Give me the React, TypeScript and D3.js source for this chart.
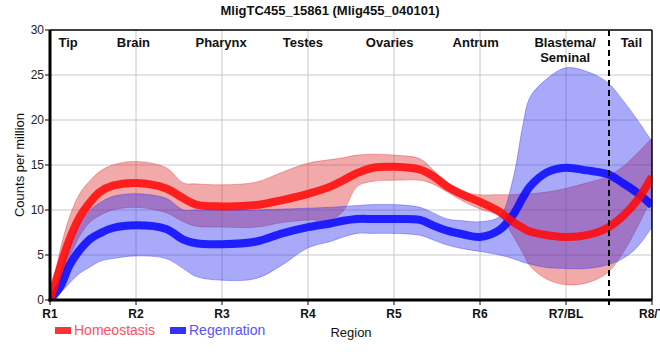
import { useRef, useEffect } from "react";
import * as d3 from "d3";

const title = "MligTC455_15861 (Mlig455_040101)";
const tickLabels = ["R1", "R2", "R3", "R4", "R5", "R6", "R7/BL", "R8/T"];
const regionNames = ["Tip", "Brain", "Pharynx", "Testes", "Ovaries", "Antrum", "Blastema/\nSeminal", "Tail"];
const regionPos = [1.21, 1.97, 2.99, 3.94, 4.95, 5.95, 6.99, 7.76];
const tailBoundary = 7.5;

// sample positions along the region axis (1 = R1 ... 8 = R8/T)
const samplePos = [1, 1.12, 1.23, 1.35, 1.47, 1.58, 1.73, 2, 2.35, 2.55, 2.7, 3, 3.4, 3.7, 4, 4.26, 4.41, 4.57, 4.76, 5, 5.3, 5.45, 5.62, 5.8, 6, 6.23, 6.38, 6.5, 6.58, 6.78, 7, 7.24, 7.48, 7.66, 7.83, 8];

const homeoMean = [0, 3.7, 6.8, 9.3, 10.9, 12.0, 12.7, 13.0, 12.4, 11.3, 10.6, 10.4, 10.55, 11.1, 11.8, 12.6, 13.3, 14.1, 14.7, 14.8, 14.5, 13.8, 12.6, 11.7, 10.9, 9.8, 8.7, 8.0, 7.6, 7.2, 7.0, 7.2, 8.0, 9.3, 11.1, 13.7];
const homeoUpper = [0, 5.6, 9.3, 11.9, 13.3, 14.3, 15.0, 15.4, 14.7, 13.0, 12.9, 12.8, 13.1, 14.2, 15.2, 15.6, 15.8, 16.1, 16.2, 16.1, 15.7, 14.5, 13.0, 12.0, 11.7, 11.7, 11.7, 11.8, 11.8, 12.0, 12.4, 13.0, 13.7, 14.8, 16.3, 18.0];
const homeoLower = [0, 2.0, 4.8, 7.2, 8.7, 9.4, 10.0, 10.3, 9.7, 8.7, 8.2, 8.1, 8.1, 8.6, 8.9, 8.9, 9.9, 12.6, 13.2, 13.3, 13.3, 12.9, 12.0, 11.0, 10.1, 9.3, 7.2, 5.2, 3.8, 2.3, 1.7, 1.9, 3.0, 5.2, 8.1, 11.4];

const regenMean = [0, 1.5, 3.9, 5.6, 6.8, 7.4, 8.0, 8.3, 7.9, 6.7, 6.3, 6.2, 6.5, 7.4, 8.1, 8.5, 8.8, 9.0, 9.0, 9.0, 8.9, 8.3, 7.7, 7.3, 7.0, 7.8, 9.4, 11.4, 12.6, 14.2, 14.7, 14.4, 14.0, 13.0, 11.9, 10.5];
const regenUpper = [0, 3.0, 6.2, 8.7, 10.0, 10.8, 11.5, 11.8, 11.3, 10.0, 10.0, 10.0, 10.0, 10.1, 10.2, 10.3, 10.4, 10.5, 10.6, 10.6, 10.3, 9.7, 9.0, 8.8, 8.7, 9.3, 13.3, 19.5, 22.5, 24.6, 25.8, 25.4, 24.2, 22.2, 20.0, 17.6];
const regenLower = [0, 0.8, 1.9, 3.0, 3.7, 4.3, 4.6, 4.9, 4.6, 3.5, 2.6, 2.2, 2.4, 3.9, 5.8, 6.5, 7.0, 7.4, 7.4, 7.4, 7.2, 6.7, 6.1, 5.7, 5.4, 5.0, 4.6, 4.2, 4.0, 3.6, 3.5, 3.5, 3.9, 4.6, 5.9, 8.1];

const yTicks = [0, 5, 10, 15, 20, 25, 30];

const FONT = "'Liberation Sans', Arial, sans-serif";

export default function App() {
  const ref = useRef<SVGSVGElement>(null);

  useEffect(() => {
    const svg = d3.select(ref.current);
    svg.selectAll("*").remove();

    const left = 50, right = 652, top = 30, bottom = 300;
    const x = d3.scaleLinear().domain([1, 8]).range([left, right]);
    const y = d3.scaleLinear().domain([0, 30]).range([bottom, top]);

    svg.append("defs").append("clipPath").attr("id", "plotclip")
      .append("rect").attr("x", left).attr("y", top).attr("width", right - left).attr("height", bottom - top);

    // grid
    const grid = svg.append("g").attr("stroke", "#c8c8c8").attr("stroke-width", 1);
    yTicks.slice(1, -1).forEach((t) => {
      grid.append("line").attr("x1", left).attr("x2", right).attr("y1", y(t)).attr("y2", y(t));
    });
    tickLabels.slice(1, -1).forEach((_, i) => {
      grid.append("line").attr("x1", x(i + 2)).attr("x2", x(i + 2)).attr("y1", top).attr("y2", bottom);
    });

    const rows = (lo: number[], hi: number[]) => samplePos.map((p, i) => ({ p, lo: lo[i], hi: hi[i] }));
    const curve = d3.curveCatmullRom.alpha(0.5);
    const area = d3.area<{ p: number; lo: number; hi: number }>()
      .x((d) => x(d.p)).y0((d) => y(d.lo)).y1((d) => y(d.hi))
      .curve(curve);
    const line = d3.line<number>()
      .x((_, i) => x(samplePos[i])).y((d) => y(d))
      .curve(curve);

    const plot = svg.append("g").attr("clip-path", "url(#plotclip)");

    plot.append("path").attr("d", area(rows(homeoLower, homeoUpper)))
      .attr("fill", "rgb(220,40,40)").attr("fill-opacity", 0.4)
      .attr("stroke", "rgb(220,40,40)").attr("stroke-opacity", 0.35).attr("stroke-width", 1);
    plot.append("path").attr("d", area(rows(regenLower, regenUpper)))
      .attr("fill", "rgb(40,40,240)").attr("fill-opacity", 0.4)
      .attr("stroke", "rgb(40,40,240)").attr("stroke-opacity", 0.35).attr("stroke-width", 1);

    plot.append("path").attr("d", line(regenMean))
      .attr("fill", "none").attr("stroke", "rgb(10,10,255)").attr("stroke-opacity", 0.88)
      .attr("stroke-width", 8);
    plot.append("path").attr("d", line(homeoMean))
      .attr("fill", "none").attr("stroke", "rgb(255,10,10)").attr("stroke-opacity", 0.88)
      .attr("stroke-width", 8);

    // dashed tail boundary
    svg.append("line").attr("x1", x(tailBoundary)).attr("x2", x(tailBoundary))
      .attr("y1", top).attr("y2", bottom)
      .attr("stroke", "#000").attr("stroke-width", 2).attr("stroke-dasharray", "6,4");

    // frame
    svg.append("line").attr("x1", left).attr("x2", right).attr("y1", top).attr("y2", top)
      .attr("stroke", "#000").attr("stroke-width", 1.5);
    svg.append("line").attr("x1", right).attr("x2", right).attr("y1", top).attr("y2", bottom)
      .attr("stroke", "#000").attr("stroke-width", 1.5);
    svg.append("line").attr("x1", left).attr("x2", left).attr("y1", top).attr("y2", bottom + 1.5)
      .attr("stroke", "#000").attr("stroke-width", 3);
    svg.append("line").attr("x1", left - 1.5).attr("x2", right).attr("y1", bottom).attr("y2", bottom)
      .attr("stroke", "#000").attr("stroke-width", 3);

    // y axis ticks
    const yAx = svg.append("g").attr("font-family", FONT).attr("font-size", 12).attr("fill", "#222");
    yTicks.forEach((t) => {
      yAx.append("line").attr("x1", left - 5).attr("x2", left).attr("y1", y(t)).attr("y2", y(t))
        .attr("stroke", "#000").attr("stroke-width", 1);
      yAx.append("text").attr("x", left - 6).attr("y", y(t) + 4).attr("text-anchor", "end").text(t);
    });

    // x axis ticks
    const xAx = svg.append("g").attr("font-family", FONT).attr("font-size", 12).attr("font-weight", "bold").attr("fill", "#111");
    tickLabels.forEach((lab, i) => {
      xAx.append("line").attr("x1", x(i + 1)).attr("x2", x(i + 1)).attr("y1", bottom).attr("y2", bottom + 5)
        .attr("stroke", "#000").attr("stroke-width", 1);
      xAx.append("text").attr("x", x(i + 1)).attr("y", bottom + 18).attr("text-anchor", "middle").text(lab);
    });
    svg.append("line").attr("x1", x(tailBoundary)).attr("x2", x(tailBoundary)).attr("y1", bottom).attr("y2", bottom + 5)
      .attr("stroke", "#000").attr("stroke-width", 2);

    // region names
    const reg = svg.append("g").attr("font-family", FONT).attr("font-size", 13).attr("font-weight", "bold").attr("fill", "#111");
    regionNames.forEach((name, i) => {
      name.split("\n").forEach((part, j) => {
        reg.append("text").attr("x", x(regionPos[i])).attr("y", 47 + j * 15)
          .attr("text-anchor", "middle").text(part);
      });
    });

    // title
    svg.append("text").attr("x", 330).attr("y", 15).attr("text-anchor", "middle")
      .attr("font-family", FONT).attr("font-size", 13).attr("font-weight", "bold").attr("fill", "#111")
      .text(title);

    // y label
    svg.append("text").attr("transform", `translate(24,${(top + bottom) / 2}) rotate(-90)`)
      .attr("text-anchor", "middle").attr("font-family", FONT).attr("font-size", 13).attr("fill", "#111")
      .text("Counts per million");

    // x label
    svg.append("text").attr("x", 351).attr("y", 337).attr("text-anchor", "middle")
      .attr("font-family", FONT).attr("font-size", 13).attr("fill", "#111").text("Region");

    // legend
    const legend = [
      { label: "Homeostasis", rect: "#ff3333", text: "#ff5060", x0: 55 },
      { label: "Regenration", rect: "#3333ff", text: "#5555ff", x0: 170 },
    ];
    legend.forEach((l) => {
      svg.append("rect").attr("x", l.x0).attr("y", 327).attr("width", 16).attr("height", 7).attr("fill", l.rect);
      svg.append("text").attr("x", l.x0 + 19).attr("y", 335).attr("font-family", FONT).attr("font-size", 14)
        .attr("fill", l.text).text(l.label);
    });
  }, []);

  return (
    <svg ref={ref} width={660} height={360}
      style={{ position: "absolute", left: 0, top: 0, background: "#fff" }} />
  );
}
